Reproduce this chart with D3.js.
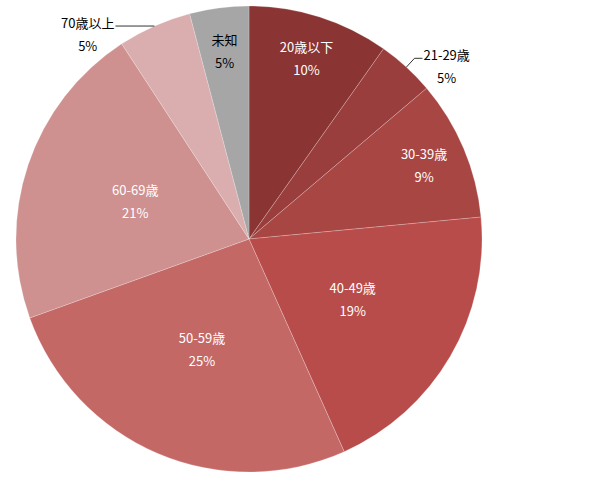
<!DOCTYPE html>
<html>
<head>
<meta charset="utf-8">
<script src="https://cdn.jsdelivr.net/npm/d3@7"></script>
<style>
  body { margin: 0; background: #fff; }
  text { font-family: "Noto Sans CJK TC", "Noto Sans CJK SC", sans-serif; font-size: 13px; }
</style>
</head>
<body>
<svg id="chart" width="605" height="488"></svg>
<script>
// age groups, clockwise from 12 o'clock
const categories = ["20歳以下", "21-29歳", "30-39歳", "40-49歳", "50-59歳", "60-69歳", "70歳以上", "未知"]
// share of the circle
const shares = [9.8, 4.0, 9.7, 19.8, 26.2, 21.3, 5.1, 4.1]
// the percentage printed on each slice
const pctLabels = ["10%", "5%", "9%", "19%", "25%", "21%", "5%", "5%"]
const colors = ["#8a3533", "#993e3c", "#a84644", "#b84c4a", "#c46866", "#cf9090", "#daadae", "#a6a6a6"]

const width = 605, height = 488
const cx = 249, cy = 239, radius = 233

// slices whose label sits outside with a leader line
const outside = {
    "21-29歳": { elbowR: 245, tail: 8, side: 1 },
    "70歳以上": { elbowR: 233, tail: 39, side: -1 },
}

const data = categories.map((c, i) => ({ c, v: shares[i], pct: pctLabels[i], color: colors[i] }))

const svg = d3.select("#chart")
const g = svg.append("g").attr("transform", `translate(${cx}, ${cy})`)

const pie = d3.pie().sort(null).value(d => d.v)
const arcs = pie(data)
const arc = d3.arc().innerRadius(0).outerRadius(radius)

g.selectAll("path")
    .data(arcs)
    .join("path")
    .attr("d", arc)
    .attr("fill", d => d.data.color)
    .attr("stroke", "rgba(255,255,255,0.28)")
    .attr("stroke-width", 0.8)

const polar = (r, a) => [r * Math.sin(a), -r * Math.cos(a)]

// labels inside the slices
const inside = arcs.filter(d => !outside[d.data.c])
const labelR = d => (d.endAngle - d.startAngle) < 0.7 ? 190 : 120

const inLabels = g.selectAll("g.in")
    .data(inside)
    .join("g")
    .attr("class", "in")
    .attr("transform", d => {
        const [x, y] = polar(labelR(d), (d.startAngle + d.endAngle) / 2)
        return `translate(${x}, ${y})`
    })
    .attr("fill", d => d.data.c === "未知" ? "#000" : "#fff")
    .attr("text-anchor", "middle")

inLabels.append("text")
    .attr("y", -11.5)
    .attr("dominant-baseline", "central")
    .text(d => d.data.c)
inLabels.append("text")
    .attr("y", 11.5)
    .attr("dominant-baseline", "central")
    .text(d => d.data.pct)

// labels outside with leader lines
arcs.filter(d => outside[d.data.c]).forEach(d => {
    const o = outside[d.data.c]
    const mid = (d.startAngle + d.endAngle) / 2
    const p0 = polar(radius, mid)
    const p1 = polar(o.elbowR, mid)
    const p2 = [p1[0] + o.side * o.tail, p1[1]]

    g.append("path")
        .attr("d", d3.line()([p0, p1, p2]))
        .attr("fill", "none")
        .attr("stroke", "#000")
        .attr("stroke-width", 0.8)

    const name = g.append("text")
        .attr("x", p2[0] + o.side * 1)
        .attr("y", p2[1] - 4)
        .attr("dominant-baseline", "central")
        .attr("text-anchor", o.side > 0 ? "start" : "end")
        .attr("fill", "#000")
        .text(d.data.c)
    const w = name.node().getComputedTextLength()

    g.append("text")
        .attr("x", p2[0] + o.side * (1 + w / 2))
        .attr("y", p2[1] - 4 + 23)
        .attr("dominant-baseline", "central")
        .attr("text-anchor", "middle")
        .attr("fill", "#000")
        .text(d.data.pct)
})
</script>
</body>
</html>
